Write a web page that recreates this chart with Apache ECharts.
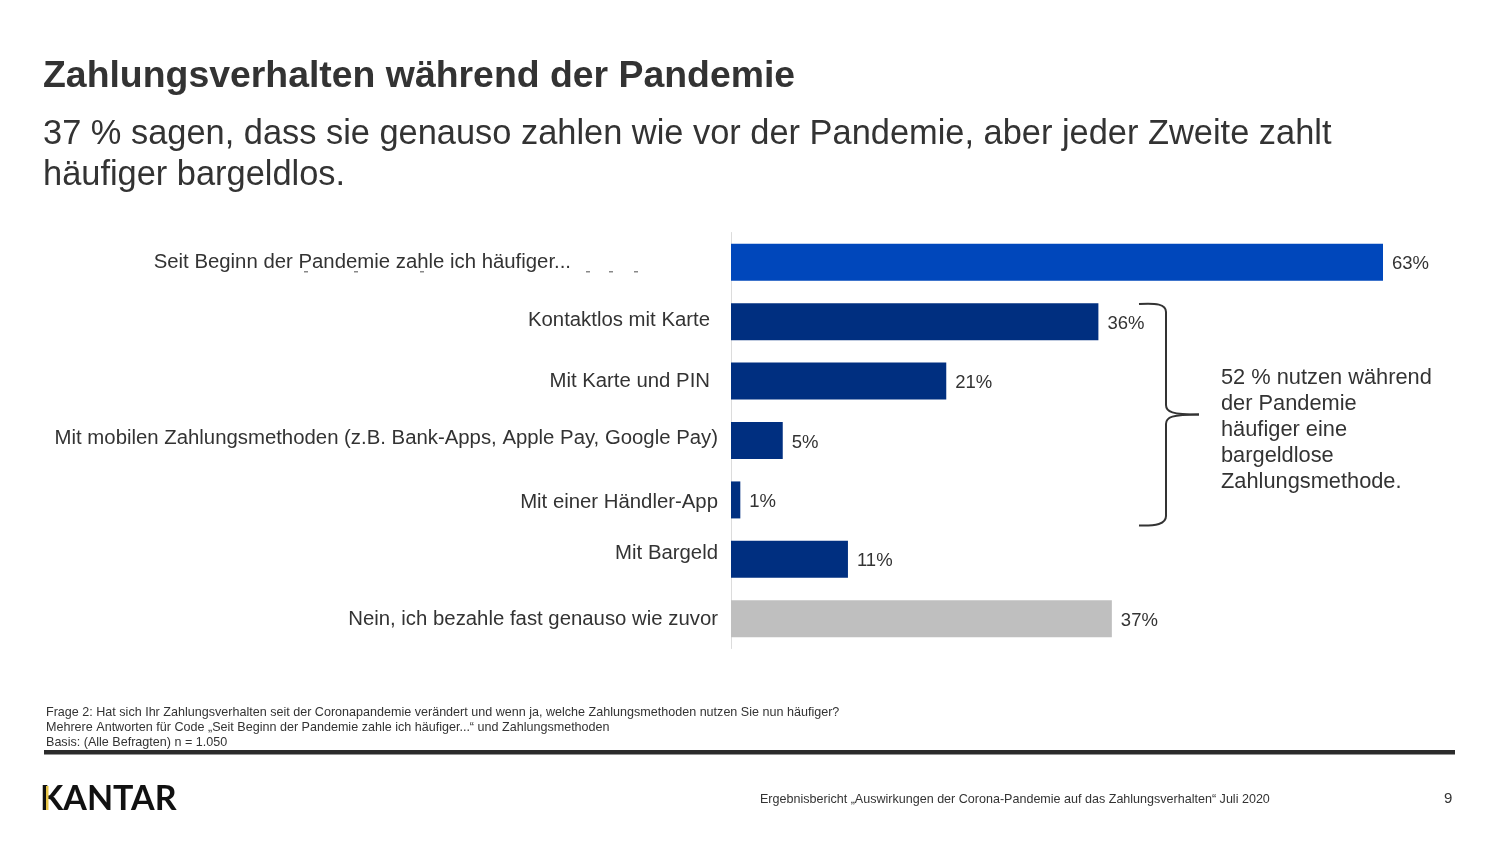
<!DOCTYPE html>
<html><head><meta charset="utf-8">
<style>html,body{margin:0;padding:0;background:#fff}#c{width:1500px;height:842px}</style>
<script src="https://cdn.jsdelivr.net/npm/echarts@6/dist/echarts.min.js"></script></head>
<body><div id="c"></div>
<script>
const categories = ["Seit Beginn der Pandemie zahle ich häufiger...","Kontaktlos mit Karte","Mit Karte und PIN","Mit mobilen Zahlungsmethoden (z.B. Bank-Apps, Apple Pay, Google Pay)","Mit einer Händler-App","Mit Bargeld","Nein, ich bezahle fast genauso wie zuvor"];
const values = [63,35.5,20.8,5,0.9,11.3,36.8];
const valueLabels = ["63%","36%","21%","5%","1%","11%","37%"];
const barColors = ["#0047BB","#002F80","#002F80","#002F80","#002F80","#002F80","#BFBFBF"];
const labelShiftRight = [147,8,8,0,0,0,0];
const labelShiftUp = [0,1,0,2,-2,6,-1];
const titleText = "Zahlungsverhalten während der Pandemie";
const subtitleLines = ["37 % sagen, dass sie genauso zahlen wie vor der Pandemie, aber jeder Zweite zahlt","häufiger bargeldlos."];
const noteLines = ["52 % nutzen während","der Pandemie","häufiger eine","bargeldlose","Zahlungsmethode."];
const footLines = ["Frage 2: Hat sich Ihr Zahlungsverhalten seit der Coronapandemie verändert und wenn ja, welche Zahlungsmethoden nutzen Sie nun häufiger?","Mehrere Antworten für Code „Seit Beginn der Pandemie zahle ich häufiger...“ und Zahlungsmethoden","Basis: (Alle Befragten) n = 1.050"];
const footerText = "Ergebnisbericht „Auswirkungen der Corona-Pandemie auf das Zahlungsverhalten“ Juli 2020";
const pageNo = "9";
const FF = '"Liberation Sans", Arial, sans-serif';
const rich = {};
categories.forEach((c,i)=>{rich['l'+i]={fontFamily:FF,fontSize:20.35,color:'#333',padding:[labelShiftUp[i]<0?-labelShiftUp[i]*2:0,labelShiftRight[i],labelShiftUp[i]>0?labelShiftUp[i]*2:0,0]};});
function txt(x,y,text,size,extra){return {type:'text',x,y,style:Object.assign({text,fontFamily:FF,fontSize:size,fill:'#333',verticalAlign:'middle'},extra||{})};}
const brace={stroke:'#333',lineWidth:2,fill:'none'};
function bez(x1,y1,cpx1,cpy1,cpx2,cpy2,x2,y2){return {type:'bezierCurve',shape:{x1,y1,cpx1,cpy1,cpx2,cpy2,x2,y2},style:brace};}
function seg(x1,y1,x2,y2){return {type:'line',shape:{x1,y1,x2,y2},style:brace};}
const graphics = [
 txt(43,77,titleText,37.4,{fontWeight:'bold'}),
 ...subtitleLines.map((t,i)=>txt(43,135+i*41,t,34.4)),
 ...noteLines.map((t,i)=>txt(1221,378+i*26.1,t,21.8)),
 ...footLines.map((t,i)=>txt(46,712.5+i*15.2,t,12.57)),
 {type:'rect',shape:{x:44,y:750,width:1411,height:4.5},style:{fill:'#2b2b2b'}},
 txt(760,799.5,footerText,12.55),
 txt(1444,799,pageNo,15),
 {type:'text',x:40,y:799,style:{text:'KANTAR',fontFamily:'Lato, "Liberation Sans"',fontWeight:700,fontSize:34,fill:'#111',verticalAlign:'middle'}},
 {type:'rect',shape:{x:46,y:786,width:2.5,height:24},style:{fill:'#E8C547'}},
 bez(1139,304,1156,303,1166,304,1166,312),
 seg(1166,312,1166,405),
 bez(1166,405,1166,412,1172,414.5,1199,414.5),
 bez(1199,414.5,1172,414.5,1166,417,1166,424),
 seg(1166,424,1166,516),
 bez(1166,516,1166,524,1156,526,1139,525.5),
 ...[304,354,420,586,609,634].map(x=>({type:'rect',shape:{x,y:271,width:4,height:1.5},style:{fill:'#888'}}))
];
const chart = echarts.init(document.getElementById('c'),null,{renderer:'canvas'});
chart.setOption({
 animation:false,
 backgroundColor:'#fff',
 grid:{left:731,top:232.5,width:652,height:416,containLabel:false},
 xAxis:{type:'value',min:0,max:63,show:false},
 yAxis:{type:'category',inverse:true,data:categories,
  axisTick:{show:false},
  axisLine:{show:true,lineStyle:{color:'#dcdcdc',width:1}},
  axisLabel:{margin:13,interval:0,formatter:(v,i)=>`{l${i}|${v}}`,rich}},
 series:[{type:'bar',barWidth:37,
  data:values.map((v,i)=>({value:v,itemStyle:{color:barColors[i]}})),
  label:{show:true,position:'right',distance:9,offset:[0,2],formatter:(p)=>valueLabels[p.dataIndex],fontFamily:FF,fontSize:18.5,color:'#333'}}],
 graphic:graphics
});
</script></body></html>
